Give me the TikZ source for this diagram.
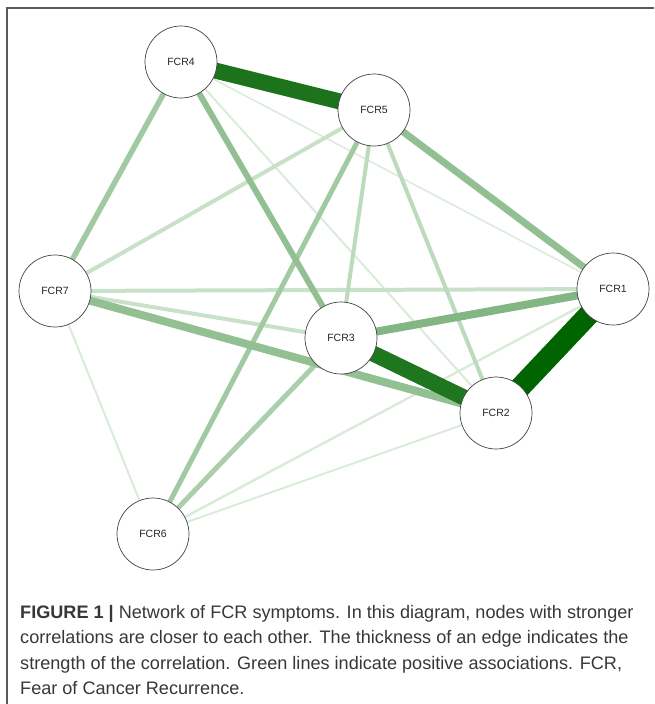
\documentclass[tikz,border=0pt]{standalone}
\usepackage{fontspec}
\setmainfont{Liberation Sans}
\usetikzlibrary{backgrounds}
\definecolor{e12}{RGB}{0,100,0}
\definecolor{e45}{RGB}{28,115,28}
\definecolor{e32}{RGB}{30,118,30}
\definecolor{e31}{RGB}{132,182,132}
\definecolor{emid}{RGB}{146,192,146}
\definecolor{elt}{RGB}{162,202,162}
\definecolor{e36}{RGB}{170,207,170}
\definecolor{epale}{RGB}{188,218,188}
\definecolor{epaler}{RGB}{200,225,200}
\definecolor{ethin}{RGB}{218,235,218}
\definecolor{framec}{RGB}{90,90,90}
\definecolor{captc}{RGB}{55,55,55}
\tikzset{
  fcr/.style={circle, draw=black!75, line width=0.7pt, fill=white, minimum size=72pt, inner sep=0pt, font=\fontsize{10.5}{12}\selectfont, text=black!85},
  edge/.style={line cap=butt},
  capline/.style={anchor=base west, inner sep=0pt, text=captc, font=\fontsize{18.1}{22}\selectfont}
}
\begin{document}
\begin{tikzpicture}[x=1pt,y=-1pt]
\useasboundingbox (0,0) rectangle (654,704);
\draw[framec, line width=1.2pt] (7,704) -- (7,8) -- (654,8);
\node[fcr] (n4) at (181,62) {FCR4};
\node[fcr] (n5) at (374,110) {FCR5};
\node[fcr] (n7) at (55,291) {FCR7};
\node[fcr] (n1) at (613,289) {FCR1};
\node[fcr] (n3) at (341,338) {FCR3};
\node[fcr] (n2) at (496,413) {FCR2};
\node[fcr] (n6) at (153,534) {FCR6};
\begin{scope}[on background layer]
\draw[edge, ethin, line width=1.5] (n4.center) -- (n1.center);
\draw[edge, ethin, line width=2] (n4.center) -- (n2.center);
\draw[edge, ethin, line width=2] (n7.center) -- (n6.center);
\draw[edge, ethin, line width=2] (n6.center) -- (n2.center);
\draw[edge, ethin, line width=2.5] (n6.center) -- (n1.center);
\draw[edge, epaler, line width=4] (n7.center) -- (n1.center);
\draw[edge, epaler, line width=4] (n7.center) -- (n3.center);
\draw[edge, epaler, line width=4] (n5.center) -- (n7.center);
\draw[edge, epale, line width=4] (n5.center) -- (n3.center);
\draw[edge, epale, line width=4] (n5.center) -- (n2.center);
\draw[edge, e36, line width=5] (n3.center) -- (n6.center);
\draw[edge, elt, line width=5] (n5.center) -- (n6.center);
\draw[edge, elt, line width=5.5] (n4.center) -- (n7.center);
\draw[edge, emid, line width=6] (n4.center) -- (n3.center);
\draw[edge, emid, line width=7] (n5.center) -- (n1.center);
\draw[edge, emid, line width=8] (n7.center) -- (n2.center);
\draw[edge, e31, line width=8] (n3.center) -- (n1.center);
\draw[edge, e32, line width=16] (n3.center) -- (n2.center);
\draw[edge, e45, line width=16] (n4.center) -- (n5.center);
\draw[edge, e12, line width=21] (n1.center) -- (n2.center);
\end{scope}
\node[capline] (c1) at (20,618) {\textbf{FIGURE 1 |} Network of FCR symptoms. In this diagram, nodes with stronger};
\node[capline] (c2) at (20,643.5) {correlations are closer to each other. The thickness of an edge indicates the};
\node[capline] (c3) at (20,669) {strength of the correlation. Green lines indicate positive associations. FCR,};
\node[capline] (c4) at (20,694.5) {Fear of Cancer Recurrence.};
\end{tikzpicture}
\end{document}
